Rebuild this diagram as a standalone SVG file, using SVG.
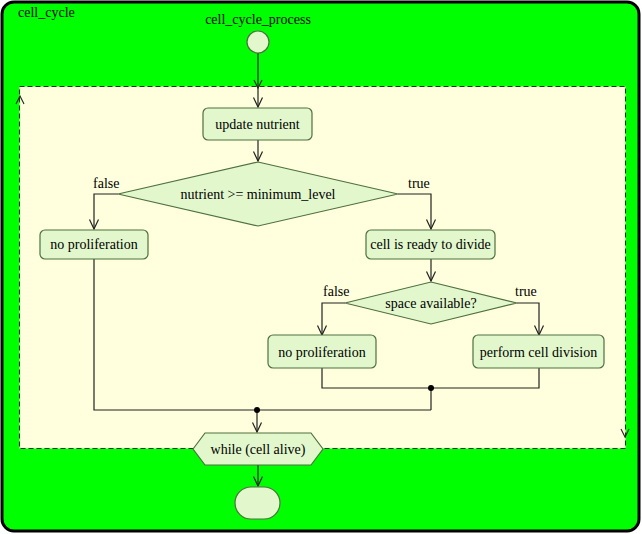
<svg xmlns="http://www.w3.org/2000/svg" width="642" height="534" viewBox="0 0 642 534">
<defs>
<marker id="arr" viewBox="0 0 12 12" refX="11" refY="6" markerWidth="12" markerHeight="12" markerUnits="userSpaceOnUse" orient="auto">
<path d="M1.5,1.5 L11,6 L1.5,10.5" fill="none" stroke="#222" stroke-width="1.2"/>
</marker>
<style>
text{font-family:"Liberation Serif","Tinos","Noto Serif","DejaVu Serif","FreeSerif","Times New Roman",Times,serif;font-size:14px;fill:#000}
.node{fill:#E2F7CC;stroke:#4F7040;stroke-width:1.2}
.c{text-anchor:middle}
.edge{fill:none;stroke:#222;stroke-width:1.2}
.mark{fill:none;stroke:#222;stroke-width:1.1}
</style>
</defs>
<g id="frame">
<rect x="2" y="2" width="637" height="529" rx="12" fill="#00FF00" stroke="#000" stroke-width="3"/>
<text x="18" y="17">cell_cycle</text>
</g>
<g id="loop">
<rect x="19.5" y="86.5" width="606" height="362" fill="#FFFFDD" stroke="#1a3a1a" stroke-width="1.1" stroke-dasharray="5,3"/>
<path class="mark" d="M16,104 L20,96 L24,104"/>
<path class="mark" d="M621,429 L625,437 L629,429"/>
<path class="mark" d="M254,80 L258,88 L262,80"/>
</g>
<g id="connectors">
<path class="edge" d="M258,53 V107" marker-end="url(#arr)"/>
<path class="edge" d="M258,140 V161" marker-end="url(#arr)"/>
<path class="edge" d="M118,194 H94 V229" marker-end="url(#arr)"/>
<path class="edge" d="M398,194 H431 V229" marker-end="url(#arr)"/>
<path class="edge" d="M431,258 V281" marker-end="url(#arr)"/>
<path class="edge" d="M345,303 H322 V335" marker-end="url(#arr)"/>
<path class="edge" d="M517,303 H539 V335" marker-end="url(#arr)"/>
<path class="edge" d="M322,368 V388 H539 V368"/>
<path class="edge" d="M431,388 V410"/>
<path class="edge" d="M94,258 V410 H431"/>
<path class="edge" d="M257,410 V432" marker-end="url(#arr)"/>
<path class="edge" d="M258,465 V486" marker-end="url(#arr)"/>
<circle cx="431" cy="388" r="3" fill="#000"/>
<circle cx="257" cy="410" r="3" fill="#000"/>
<text x="93" y="188">false</text>
<text x="408" y="188">true</text>
<text x="323" y="296">false</text>
<text x="515" y="296">true</text>
</g>
<g id="start">
<text class="c" x="258" y="24">cell_cycle_process</text>
<circle class="node" cx="258" cy="42" r="11"/>
</g>
<g id="update_nutrient">
<rect class="node" x="203" y="108" width="109" height="32" rx="5"/>
<text class="c" x="257.5" y="129">update nutrient</text>
</g>
<g id="decision_nutrient">
<polygon class="node" points="258,162 398,194 258,226 118,194"/>
<text class="c" x="258" y="199">nutrient &gt;= minimum_level</text>
</g>
<g id="no_proliferation_1">
<rect class="node" x="40" y="230" width="108" height="29" rx="5"/>
<text class="c" x="94" y="249">no proliferation</text>
</g>
<g id="cell_ready">
<rect class="node" x="366" y="230" width="129" height="29" rx="5"/>
<text class="c" x="430.5" y="249">cell is ready to divide</text>
</g>
<g id="decision_space">
<polygon class="node" points="431,282 517,303 431,324 345,303"/>
<text class="c" x="431" y="308">space available?</text>
</g>
<g id="no_proliferation_2">
<rect class="node" x="268" y="335" width="108" height="33" rx="5"/>
<text class="c" x="322" y="357">no proliferation</text>
</g>
<g id="perform_division">
<rect class="node" x="473" y="335" width="131" height="33" rx="5"/>
<text class="c" x="538.5" y="357">perform cell division</text>
</g>
<g id="while">
<polygon class="node" points="193,449 205,433 311,433 323,449 311,465 205,465"/>
<text class="c" x="258" y="454">while (cell alive)</text>
</g>
<g id="end">
<rect class="node" x="235" y="487" width="45" height="32" rx="16"/>
</g>
</svg>
